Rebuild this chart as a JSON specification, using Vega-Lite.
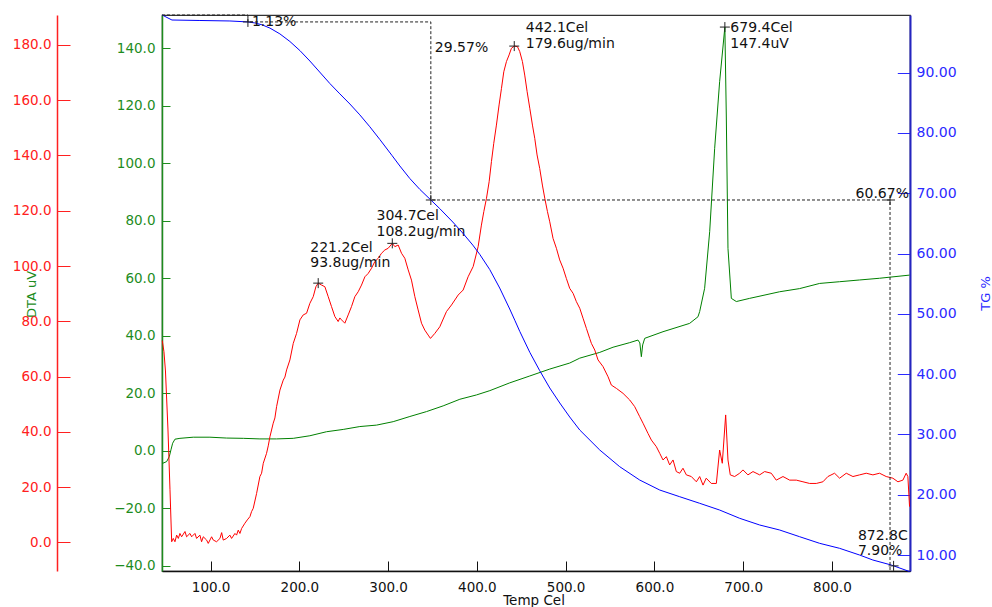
{
"$schema": "https://vega.github.io/schema/vega-lite/v6.json",
"width": 748, "height": 556,
"autosize": {"type": "none"},
"padding": {"left": 162, "top": 15, "right": 82, "bottom": 36},
"config": {"view": {"stroke": "#333", "strokeWidth": 1.2}, "font": "DejaVu Sans", "axis": {"labelFont": "DejaVu Sans", "titleFont": "DejaVu Sans", "titleFontWeight": "normal", "grid": false, "labelFlush": false, "labelOverlap": false}},
"datasets": {
"red": [
{"T":45.5,"v":73},{"T":47.4,"v":69},{"T":49.1,"v":62},{"T":51.9,"v":41},{"T":54.2,"v":19},{"T":56.1,"v":0.2},{"T":57.9,"v":1.4},{"T":59.8,"v":0.2},{"T":61.7,"v":2.6},{"T":63.6,"v":1.4},{"T":65.4,"v":3.2},{"T":67.3,"v":2.0},{"T":71.1,"v":3.9},{"T":72.9,"v":2.0},{"T":76.7,"v":3.2},{"T":78.6,"v":2.0},{"T":82.3,"v":3.2},{"T":84.2,"v":1.4},{"T":87.9,"v":2.6},{"T":89.8,"v":0.2},{"T":91.7,"v":2.0},{"T":95.5,"v":0.8},{"T":97.3,"v":-0.4},{"T":101.1,"v":2.0},{"T":103.0,"v":0.8},{"T":106.7,"v":0.2},{"T":110.5,"v":1.4},{"T":112.4,"v":3.5},{"T":114.2,"v":0.8},{"T":118.0,"v":1.4},{"T":121.7,"v":2.6},{"T":123.6,"v":1.4},{"T":127.4,"v":3.2},{"T":129.2,"v":2.6},{"T":131.1,"v":4.4},{"T":133.0,"v":3.2},{"T":134.9,"v":5.0},{"T":138.6,"v":6.9},{"T":141.3,"v":8.1},{"T":144.3,"v":9.3},{"T":146.1,"v":11.1},{"T":148.0,"v":12.3},{"T":151.8,"v":17.7},{"T":155.5,"v":23.8},{"T":157.4,"v":25.0},{"T":159.3,"v":28.6},{"T":163.0,"v":32.2},{"T":164.9,"v":34.9},{"T":166.8,"v":38.2},{"T":170.5,"v":43.1},{"T":172.4,"v":45.0},{"T":174.3,"v":49.1},{"T":178.1,"v":55.1},{"T":181.8,"v":58.7},{"T":183.7,"v":59.8},{"T":185.6,"v":62.4},{"T":189.3,"v":66.0},{"T":193.1,"v":72.0},{"T":196.8,"v":75.6},{"T":200.6,"v":80.5},{"T":204.3,"v":82.3},{"T":208.1,"v":82.9},{"T":211.8,"v":86.5},{"T":215.6,"v":88.9},{"T":218.6,"v":92.5},{"T":221.2,"v":93.8},{"T":225.0,"v":93.1},{"T":228.7,"v":92.5},{"T":232.5,"v":88.9},{"T":236.2,"v":85.3},{"T":240.0,"v":81.7},{"T":243.7,"v":79.9},{"T":245.6,"v":81.2},{"T":247.5,"v":80.5},{"T":251.2,"v":79.3},{"T":255.0,"v":82.3},{"T":258.7,"v":85.3},{"T":262.5,"v":88.9},{"T":266.3,"v":90.7},{"T":270.0,"v":93.1},{"T":273.8,"v":96.1},{"T":277.5,"v":97.3},{"T":281.3,"v":99.2},{"T":285.0,"v":101.6},{"T":288.8,"v":102.8},{"T":292.5,"v":104.6},{"T":296.3,"v":105.8},{"T":300.0,"v":106.4},{"T":304.7,"v":108.2},{"T":307.6,"v":107.0},{"T":311.3,"v":107.6},{"T":315.1,"v":104.6},{"T":318.8,"v":102.8},{"T":322.6,"v":98.6},{"T":326.3,"v":94.9},{"T":330.1,"v":88.9},{"T":333.8,"v":84.1},{"T":337.6,"v":79.3},{"T":341.3,"v":76.8},{"T":345.1,"v":75.0},{"T":347.7,"v":73.8},{"T":352.6,"v":75.6},{"T":358.2,"v":78.0},{"T":365.7,"v":83.5},{"T":371.4,"v":85.9},{"T":378.9,"v":89.5},{"T":384.5,"v":91.3},{"T":390.1,"v":96.1},{"T":395.8,"v":99.8},{"T":401.4,"v":107.0},{"T":405.1,"v":114.8},{"T":407.8,"v":119.7},{"T":410.8,"v":124.5},{"T":413.8,"v":130.5},{"T":416.4,"v":137.8},{"T":419.0,"v":144.4},{"T":422.0,"v":151.0},{"T":425.0,"v":158.3},{"T":427.7,"v":164.3},{"T":430.3,"v":170.3},{"T":433.3,"v":174.0},{"T":436.3,"v":176.4},{"T":438.9,"v":178.8},{"T":442.1,"v":179.6},{"T":445.7,"v":179.4},{"T":448.3,"v":177.6},{"T":451.3,"v":174.0},{"T":453.9,"v":169.1},{"T":456.6,"v":163.1},{"T":459.6,"v":157.1},{"T":462.6,"v":151.0},{"T":465.2,"v":146.2},{"T":467.8,"v":140.2},{"T":470.8,"v":135.3},{"T":473.8,"v":129.3},{"T":476.5,"v":124.5},{"T":479.5,"v":119.7},{"T":482.1,"v":116.0},{"T":485.8,"v":110.0},{"T":489.6,"v":106.4},{"T":493.3,"v":102.2},{"T":497.1,"v":99.2},{"T":500.8,"v":95.5},{"T":504.6,"v":91.9},{"T":508.4,"v":90.1},{"T":512.1,"v":87.1},{"T":515.9,"v":84.7},{"T":519.6,"v":81.1},{"T":523.4,"v":77.4},{"T":527.1,"v":73.8},{"T":529.0,"v":72.0},{"T":532.8,"v":69.6},{"T":536.5,"v":66.0},{"T":542.1,"v":63.6},{"T":547.8,"v":59.9},{"T":551.5,"v":56.9},{"T":557.2,"v":55.7},{"T":564.7,"v":53.9},{"T":572.2,"v":51.5},{"T":577.8,"v":49.1},{"T":583.4,"v":45.5},{"T":587.2,"v":43.1},{"T":592.8,"v":39.4},{"T":596.6,"v":37.0},{"T":602.2,"v":34.6},{"T":606.0,"v":32.2},{"T":609.7,"v":29.8},{"T":613.5,"v":31.0},{"T":617.2,"v":28.0},{"T":621.0,"v":29.8},{"T":624.7,"v":25.6},{"T":628.5,"v":25.0},{"T":632.2,"v":26.8},{"T":636.0,"v":24.4},{"T":641.6,"v":23.8},{"T":647.3,"v":21.9},{"T":651.0,"v":23.8},{"T":654.8,"v":20.7},{"T":658.4,"v":23.2},{"T":664.1,"v":21.3},{"T":669.8,"v":21.3},{"T":673.5,"v":33.4},{"T":676.5,"v":28.6},{"T":680.3,"v":46.1},{"T":682.9,"v":29.8},{"T":685.5,"v":24.4},{"T":690.4,"v":23.8},{"T":696.1,"v":25.0},{"T":699.8,"v":26.2},{"T":705.4,"v":24.4},{"T":711.1,"v":25.6},{"T":718.6,"v":24.4},{"T":724.2,"v":25.6},{"T":731.7,"v":25.0},{"T":737.3,"v":22.5},{"T":744.9,"v":23.8},{"T":752.4,"v":22.5},{"T":759.9,"v":22.5},{"T":767.4,"v":21.9},{"T":774.9,"v":21.3},{"T":782.4,"v":21.3},{"T":789.9,"v":21.9},{"T":795.5,"v":23.8},{"T":803.0,"v":25.0},{"T":808.7,"v":23.2},{"T":816.2,"v":25.0},{"T":823.7,"v":23.8},{"T":831.2,"v":24.4},{"T":838.7,"v":25.0},{"T":846.2,"v":24.4},{"T":853.7,"v":25.0},{"T":861.2,"v":23.8},{"T":868.7,"v":23.2},{"T":874.4,"v":21.9},{"T":880.0,"v":22.5},{"T":883.7,"v":25.0},{"T":885.6,"v":23.8},{"T":887.5,"v":12.9}
],
"green": [
{"T":45.9,"v":-4.4},{"T":50.4,"v":-3.8},{"T":53.4,"v":-2.1},{"T":55.3,"v":0.3},{"T":57.2,"v":2.6},{"T":59.8,"v":4.0},{"T":65.4,"v":4.3},{"T":80.4,"v":4.7},{"T":99.2,"v":4.7},{"T":118.0,"v":4.4},{"T":136.8,"v":4.3},{"T":155.5,"v":4.1},{"T":174.3,"v":4.1},{"T":193.1,"v":4.3},{"T":211.8,"v":5.2},{"T":230.6,"v":6.6},{"T":249.4,"v":7.4},{"T":268.1,"v":8.4},{"T":286.9,"v":8.9},{"T":305.7,"v":10.1},{"T":324.5,"v":11.9},{"T":343.2,"v":13.6},{"T":362.0,"v":15.6},{"T":380.8,"v":17.9},{"T":399.5,"v":19.4},{"T":414.6,"v":20.9},{"T":437.0,"v":23.6},{"T":459.6,"v":26.0},{"T":482.1,"v":28.4},{"T":504.6,"v":30.5},{"T":515.9,"v":32.2},{"T":538.4,"v":34.2},{"T":553.4,"v":36.0},{"T":572.2,"v":37.6},{"T":581.5,"v":38.5},{"T":583.6,"v":37.5},{"T":585.3,"v":32.7},{"T":586.8,"v":36.8},{"T":589.1,"v":39.1},{"T":609.7,"v":41.4},{"T":639.7,"v":44.3},{"T":649.1,"v":46.6},{"T":651.0,"v":48.4},{"T":656.6,"v":56.5},{"T":662.3,"v":76.2},{"T":667.9,"v":105.2},{"T":673.5,"v":128.4},{"T":679.4,"v":147.4},{"T":681.0,"v":116.8},{"T":682.9,"v":70.4},{"T":686.7,"v":53.0},{"T":692.3,"v":51.9},{"T":707.3,"v":53.0},{"T":741.1,"v":55.3},{"T":763.6,"v":56.4},{"T":786.2,"v":58.2},{"T":808.7,"v":58.8},{"T":831.2,"v":59.4},{"T":853.7,"v":60.0},{"T":887.5,"v":61.1}
],
"blue": [
{"T":45.5,"v":99.56},{"T":49.7,"v":99.23},{"T":56.4,"v":98.73},{"T":87.9,"v":98.65},{"T":121.7,"v":98.57},{"T":142.0,"v":98.41},{"T":149.9,"v":98.24},{"T":157.8,"v":97.94},{"T":166.8,"v":97.39},{"T":178.0,"v":96.43},{"T":189.3,"v":95.17},{"T":200.6,"v":93.66},{"T":211.8,"v":91.93},{"T":220.8,"v":90.44},{"T":234.3,"v":88.2},{"T":245.6,"v":86.48},{"T":256.9,"v":84.8},{"T":268.1,"v":83.0},{"T":279.4,"v":81.02},{"T":290.6,"v":78.92},{"T":304.2,"v":76.29},{"T":313.2,"v":74.52},{"T":324.4,"v":72.45},{"T":335.7,"v":70.64},{"T":348.1,"v":68.88},{"T":358.2,"v":67.45},{"T":372.8,"v":65.23},{"T":384.1,"v":63.39},{"T":395.4,"v":61.4},{"T":403.2,"v":59.87},{"T":414.5,"v":57.34},{"T":425.7,"v":54.28},{"T":437.0,"v":50.8},{"T":442.7,"v":48.94},{"T":448.3,"v":47.09},{"T":459.6,"v":43.62},{"T":470.8,"v":40.57},{"T":482.1,"v":37.7},{"T":493.4,"v":35.21},{"T":504.6,"v":32.89},{"T":515.9,"v":30.73},{"T":538.4,"v":27.42},{"T":560.9,"v":24.65},{"T":583.4,"v":22.44},{"T":606.0,"v":20.78},{"T":628.5,"v":19.67},{"T":651.0,"v":18.58},{"T":673.5,"v":17.46},{"T":696.1,"v":16.09},{"T":718.6,"v":14.98},{"T":741.1,"v":14.15},{"T":763.6,"v":13.04},{"T":786.2,"v":11.94},{"T":808.7,"v":11.11},{"T":831.2,"v":10.0},{"T":846.2,"v":9.17},{"T":866.9,"v":8.34},{"T":887.5,"v":7.26}
],
"steps": [
{"i":0,"T":45.2,"v":99.56},{"i":1,"T":142.0,"v":99.56},{"i":2,"T":142.0,"v":98.41},{"i":3,"T":348.1,"v":98.41},{"i":4,"T":348.1,"v":68.88},{"i":5,"T":865.5,"v":68.88},{"i":6,"T":865.5,"v":7.35}
],
"blueMarks": [{"T":142.0,"v":98.41},{"T":348.1,"v":68.88},{"T":865.5,"v":68.88},{"T":869.5,"v":8.2}],
"redMarks": [{"T":221.2,"v":93.8},{"T":304.7,"v":108.2},{"T":442.1,"v":179.6}],
"greenMarks": [{"T":679.4,"v":147.4}],
"redText": [
{"T":212.3,"v":105.2,"label":"221.2Cel"},{"T":212.3,"v":99.5,"label":"93.8ug/min"},
{"T":286.9,"v":116.65,"label":"304.7Cel"},{"T":286.9,"v":111.0,"label":"108.2ug/min"},
{"T":455.1,"v":184.8,"label":"442.1Cel"},{"T":455.1,"v":178.8,"label":"179.6ug/min"}
],
"greenText": [{"T":685.6,"v":145.7,"label":"679.4Cel"},{"T":685.6,"v":140.1,"label":"147.4uV"}],
"blueText": [
{"T":146.5,"v":97.79,"label":"1.13%"},{"T":352.6,"v":93.48,"label":"29.57%"},{"T":826.7,"v":69.16,"label":"60.67%"},{"T":829.3,"v":12.49,"label":"872.8C"},{"T":829.3,"v":10.0,"label":"7.90%"}
]
},
"encoding": {
"x": {"field": "T", "type": "quantitative", "scale": {"domain": [45.2, 888], "nice": false, "zero": false},
"axis": {"orient": "bottom", "values": [100,200,300,400,500,600,700,800], "format": ".1f", "title": "Temp Cel", "titleColor": "#111", "titleFontSize": 13.5, "titleX": 371.5, "titleY": 22.5, "titleBaseline": "top", "titleAlign": "center", "domainColor": "#111", "domainWidth": 1.5, "tickColor": "#111", "tickSize": -10, "labelPadding": 19, "labelColor": "#111", "labelFontSize": 13.5}}
},
"layer": [
{
"encoding": {"y": {"field": "v", "type": "quantitative", "scale": {"domain": [-41.86, 151.6], "nice": false, "zero": false},
"axis": {"orient": "left", "values": [-40,-20,0,20,40,60,80,100,120,140], "format": ".1f", "title": "DTA uV", "titleColor": "#1e8c1e", "titleFontSize": 13, "titleX": -130.5, "titleY": 279, "titleAngle": 270, "titleAlign": "center", "titleBaseline": "middle", "domainColor": "#1e8c1e", "domainWidth": 1.5, "tickColor": "#1e8c1e", "tickSize": -8, "labelPadding": 15, "labelColor": "#1e8c1e", "labelFontSize": 13.5}}},
"layer": [
{"data": {"name": "green"}, "mark": {"type": "line", "color": "#008000", "strokeWidth": 1}, "encoding": {}},
{"data": {"name": "greenMarks"}, "mark": {"type": "point", "shape": "M-1,0L1,0M0,-1L0,1", "size": 100, "stroke": "#222", "strokeWidth": 1, "filled": false, "opacity": 1}, "encoding": {}},
{"data": {"name": "greenText"}, "mark": {"type": "text", "align": "left", "baseline": "alphabetic", "fontSize": 14, "font": "DejaVu Sans", "color": "#111"}, "encoding": {"text": {"field": "label"}}}
]
},
{
"encoding": {"y": {"field": "v", "type": "quantitative", "scale": {"domain": [-10.39, 190.85], "nice": false, "zero": false},
"axis": {"orient": "left", "offset": 105, "values": [0,20,40,60,80,100,120,140,160,180], "format": ".1f", "title": null, "domainColor": "#ff2020", "domainWidth": 1.5, "tickColor": "#ff2020", "tickSize": -13, "labelPadding": 19, "labelColor": "#ff2020", "labelFontSize": 13.5}}},
"layer": [
{"data": {"name": "red"}, "mark": {"type": "line", "color": "#ff0000", "strokeWidth": 1}, "encoding": {}},
{"data": {"name": "redMarks"}, "mark": {"type": "point", "shape": "M-1,0L1,0M0,-1L0,1", "size": 100, "stroke": "#222", "strokeWidth": 1, "filled": false, "opacity": 1}, "encoding": {}},
{"data": {"name": "redText"}, "mark": {"type": "text", "align": "left", "baseline": "alphabetic", "fontSize": 14, "font": "DejaVu Sans", "color": "#111"}, "encoding": {"text": {"field": "label"}}}
]
},
{
"encoding": {"y": {"field": "v", "type": "quantitative", "scale": {"domain": [7.35, 99.56], "nice": false, "zero": false},
"axis": {"orient": "right", "values": [10,20,30,40,50,60,70,80,90], "format": ".2f", "title": "TG %", "titleColor": "#2a2aff", "titleFontSize": 13, "titleX": 75.5, "titleY": 278, "titleAngle": 270, "titleAlign": "center", "titleBaseline": "middle", "domainColor": "#2525c0", "domainWidth": 2, "tickColor": "#2a2aff", "tickSize": -12.7, "labelPadding": 18.7, "labelColor": "#2a2aff", "labelFontSize": 14}}},
"layer": [
{"data": {"name": "blue"}, "mark": {"type": "line", "color": "#0000ff", "strokeWidth": 1}, "encoding": {}},
{"data": {"name": "steps"}, "mark": {"type": "line", "color": "#222", "strokeWidth": 1, "strokeDash": [3,2]}, "encoding": {"order": {"field": "i", "type": "quantitative"}}},
{"data": {"name": "blueMarks"}, "mark": {"type": "point", "shape": "M-1,0L1,0M0,-1L0,1", "size": 100, "stroke": "#222", "strokeWidth": 1, "filled": false, "opacity": 1}, "encoding": {}},
{"data": {"name": "blueText"}, "mark": {"type": "text", "align": "left", "baseline": "alphabetic", "fontSize": 14, "font": "DejaVu Sans", "color": "#111"}, "encoding": {"text": {"field": "label"}}}
]
}
],
"resolve": {"scale": {"y": "independent"}}
}
